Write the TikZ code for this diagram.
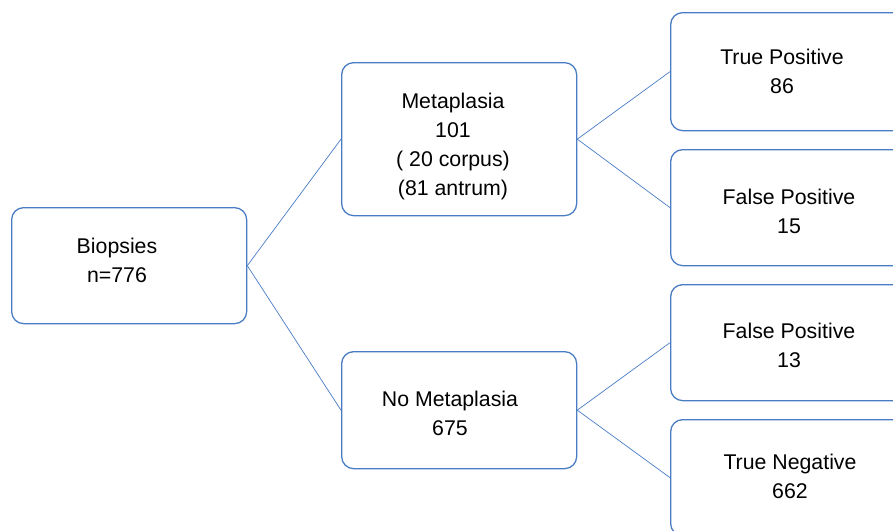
\documentclass[tikz,border=0pt]{standalone}
\usepackage{fontspec}
\setmainfont{Liberation Sans}
\definecolor{boxblue}{HTML}{4A7CC4}
\begin{document}
\begin{tikzpicture}[x=1pt,y=-1pt,
  box/.style={draw=boxblue,line width=1.3pt,rounded corners=12pt,fill=white,anchor=north west,inner sep=0pt},
  lbl/.style={align=center,font=\fontsize{21.3}{29}\selectfont,text=black,inner sep=0pt},
  conn/.style={draw=boxblue,line width=0.7pt}]
\useasboundingbox (0,0) rectangle (893,530);
\clip (0,0) rectangle (893,530);
\node[box,minimum width=235pt,minimum height=116pt] (bio) at (11,207) {};
\node[box,minimum width=235pt,minimum height=153pt] (met) at (341,62) {};
\node[box,minimum width=235pt,minimum height=117pt] (nomet) at (341,351) {};
\node[box,minimum width=240pt,minimum height=118pt] (tp) at (670,12) {};
\node[box,minimum width=240pt,minimum height=116pt] (fp1) at (670,149) {};
\node[box,minimum width=240pt,minimum height=116pt] (fp2) at (670,284) {};
\node[box,minimum width=240pt,minimum height=116pt] (tn) at (670,419) {};
\draw[conn] (bio.east) -- (met.west);
\draw[conn] (bio.east) -- (nomet.west);
\draw[conn] (met.east) -- (tp.west);
\draw[conn] (met.east) -- (fp1.west);
\draw[conn] (nomet.east) -- (fp2.west);
\draw[conn] (nomet.east) -- (tn.west);
\node[lbl] (tbio) at (117,260) {Biopsies\\n=776};
\node[lbl] (tmet) at (453,146) {Metaplasia\\101\\( 20 corpus)\\(81 antrum)};
\node[lbl] (tnomet) at (450,413) {No Metaplasia\\675};
\node[lbl] (ttp) at (782,71) {True Positive\\86};
\node[lbl] (tfp1) at (789,211) {False Positive\\15};
\node[lbl] (tfp2) at (789,345) {False Positive\\13};
\node[lbl] (ttn) at (790,476) {True Negative\\662};
\end{tikzpicture}
\end{document}
